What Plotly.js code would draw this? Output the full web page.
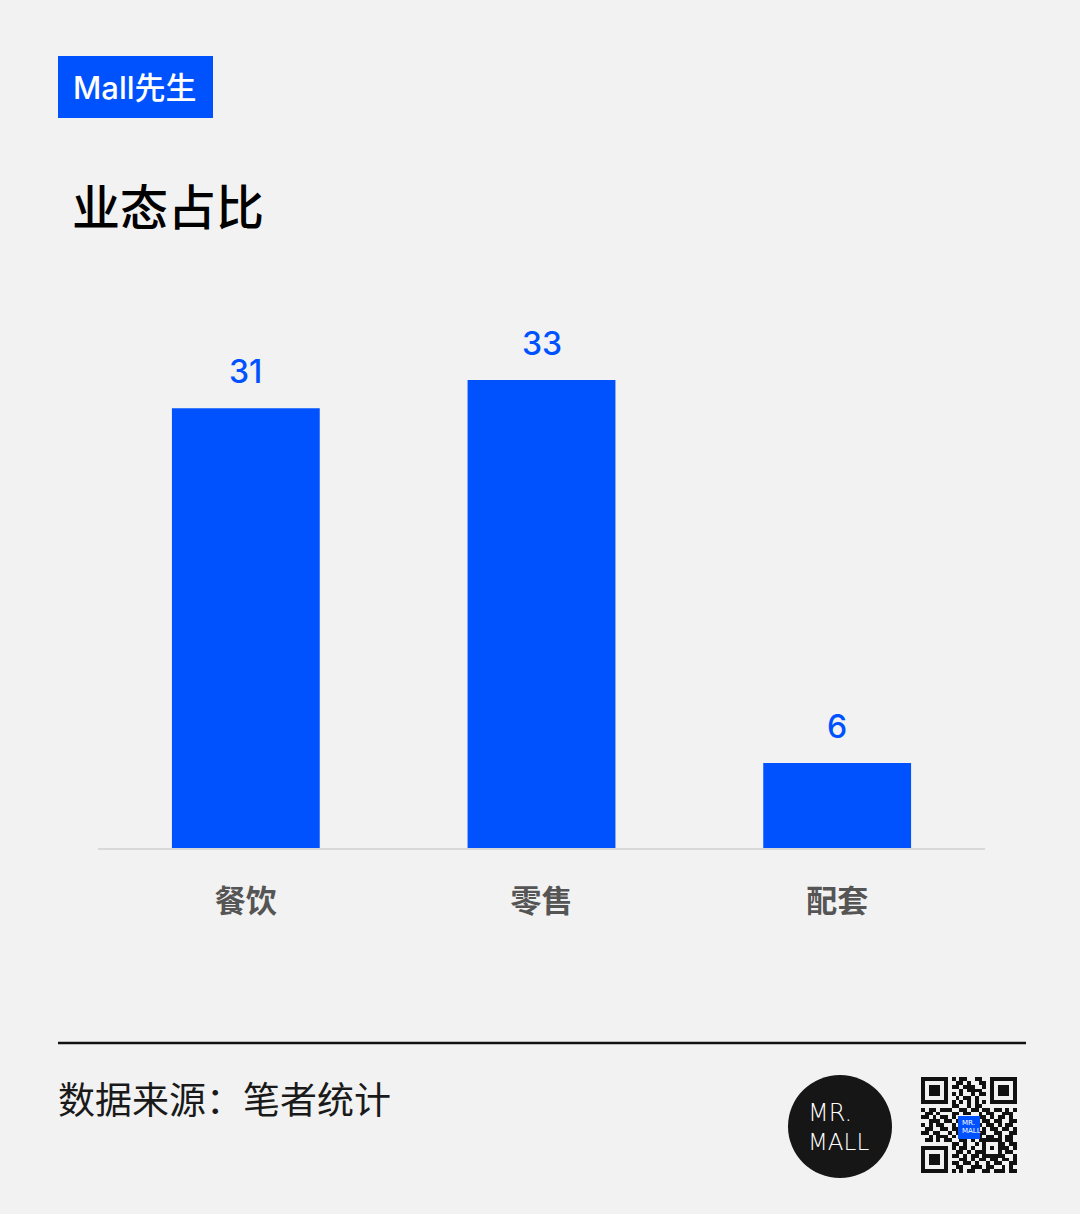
<!DOCTYPE html>
<html>
<head>
<meta charset="utf-8">
<script src="https://cdn.plot.ly/plotly-3.0.1.min.js"></script>
<style>html,body{margin:0;padding:0;background:#f2f2f2;}#chart{width:1080px;height:1214px;}</style>
</head>
<body>
<div id="chart"></div>
<script>
// ---- data ----
const categories = ['餐饮', '零售', '配套'];
const values = [31, 33, 6];
const chartTitle = '业态占比';
const tagText = 'Mall先生';
const sourceText = '数据来源：笔者统计';
const logoLine1 = 'MR.';
const logoLine2 = 'MALL';
// decorative QR pattern (hand-drawn approximation), row 0 at top
const qrRows = [
  '1111111010110011001111111',
  '1000001001101001101000001',
  '1011101011011100101011101',
  '1011101000101111001011101',
  '1011101010100101101011101',
  '1000001001011010001000001',
  '1111111010101010101111111',
  '0000000011001011000000000',
  '1011011100110110110110101',
  '0110100011011001011001110',
  '1101011010000001101011010',
  '0011101101000000110110011',
  '1010110010000001011010110',
  '0110011011000000101101101',
  '1101100101000001100110011',
  '0010111010110101011010110',
  '0110101100110101111110110',
  '0000000011010010100011011',
  '1111111010110100101011101',
  '1000001001101011100010110',
  '1011101011010110111111001',
  '1011101000110101101101101',
  '1011101011011010010110011',
  '1000001001100111011001010',
  '1111111010101100110111011'
];

// ---- layout helpers ----
const W = 1080, H = 1214;
const px = x => x / W;
const py = y => 1 - y / H;

const BLUE = '#0052ff';
const BG = '#f2f2f2';
const CJK = 'Noto Sans CJK SC';
const LOGO_FONT = 'DejaVu Sans, sans-serif';

const qrZ = qrRows.map(r => r.split('').map(Number));

const barTrace = {
  type: 'bar',
  x: categories,
  y: values,
  marker: {color: BLUE},
  width: 0.5,
  hoverinfo: 'none',
  xaxis: 'x', yaxis: 'y'
};

const qrTrace = {
  type: 'heatmap',
  z: qrZ,
  colorscale: [[0, BG], [1, '#111111']],
  showscale: false,
  hoverinfo: 'none',
  xaxis: 'x2', yaxis: 'y2'
};

const annotations = categories.map((c, i) => ({
  x: c, y: values[i], xref: 'x', yref: 'y',
  text: String(values[i]),
  showarrow: false,
  yanchor: 'bottom',
  yshift: 15,
  font: {family: 'Inter, Liberation Sans, sans-serif', size: 32, color: BLUE, weight: 500}
}));

annotations.push(
  {xref: 'paper', yref: 'paper', x: px(71), y: py(87), xanchor: 'left', yanchor: 'middle',
   text: tagText, showarrow: false,
   font: {family: 'Inter, ' + CJK, size: 31, color: '#ffffff', weight: 500}},
  {xref: 'paper', yref: 'paper', x: px(56), y: py(1098), xanchor: 'left', yanchor: 'middle',
   text: sourceText, showarrow: false,
   font: {family: CJK, size: 37, color: '#1a1a1a'}},
  {xref: 'paper', yref: 'paper', x: px(806), y: py(1113), xanchor: 'left', yanchor: 'middle',
   text: logoLine1, showarrow: false,
   font: {family: LOGO_FONT, size: 24, color: '#ffffff', weight: 200}},
  {xref: 'paper', yref: 'paper', x: px(806), y: py(1142), xanchor: 'left', yanchor: 'middle',
   text: logoLine2, showarrow: false,
   font: {family: LOGO_FONT, size: 23, color: '#ffffff', weight: 200}},
  {xref: 'paper', yref: 'paper', x: px(960), y: py(1123), xanchor: 'left', yanchor: 'middle',
   text: logoLine1, showarrow: false,
   font: {family: LOGO_FONT, size: 7, color: '#ffffff'}},
  {xref: 'paper', yref: 'paper', x: px(960), y: py(1131), xanchor: 'left', yanchor: 'middle',
   text: logoLine2, showarrow: false,
   font: {family: LOGO_FONT, size: 7, color: '#ffffff'}}
);

const shapes = [
  {type: 'rect', xref: 'paper', yref: 'paper', x0: px(58), x1: px(213), y0: py(118), y1: py(56),
   fillcolor: BLUE, line: {width: 0}, layer: 'below'},
  {type: 'line', xref: 'paper', yref: 'paper', x0: px(58), x1: px(1026), y0: py(1043), y1: py(1043),
   line: {color: '#111111', width: 2.5}},
  {type: 'circle', xref: 'paper', yref: 'paper', x0: px(788), x1: px(892), y0: py(1178), y1: py(1075),
   fillcolor: '#161616', line: {width: 0}},
  {type: 'rect', xref: 'paper', yref: 'paper', x0: px(958), x1: px(980), y0: py(1139), y1: py(1116),
   fillcolor: BLUE, line: {width: 0}, layer: 'above'}
];

const layout = {
  width: W, height: H,
  margin: {l: 0, r: 0, t: 0, b: 0, pad: 0},
  paper_bgcolor: BG,
  plot_bgcolor: BG,
  showlegend: false,
  title: {
    text: chartTitle,
    xref: 'paper', yref: 'paper',
    x: px(72), xanchor: 'left',
    y: py(208), yanchor: 'middle',
    font: {family: CJK, size: 48, color: '#000000', weight: 500}
  },
  xaxis: {
    domain: [px(98), px(985)],
    anchor: 'y',
    showline: true, linecolor: '#d9d9d9', linewidth: 1.5,
    showgrid: false, zeroline: false,
    ticks: 'outside', ticklen: 25, tickcolor: 'rgba(0,0,0,0)',
    tickfont: {family: CJK, size: 31, color: '#555555', weight: 'bold'},
    fixedrange: true
  },
  yaxis: {
    domain: [py(848), py(309)],
    anchor: 'x',
    range: [0, 38],
    visible: false,
    showgrid: false, zeroline: false,
    fixedrange: true
  },
  xaxis2: {
    domain: [px(921), px(1017)],
    anchor: 'y2',
    visible: false, showgrid: false, zeroline: false,
    range: [-0.5, 24.5]
  },
  yaxis2: {
    domain: [py(1173), py(1077)],
    anchor: 'x2',
    visible: false, showgrid: false, zeroline: false,
    range: [24.5, -0.5]
  },
  annotations: annotations,
  shapes: shapes
};

Plotly.newPlot('chart', [barTrace, qrTrace], layout, {displayModeBar: false, staticPlot: true});
</script>
</body>
</html>
